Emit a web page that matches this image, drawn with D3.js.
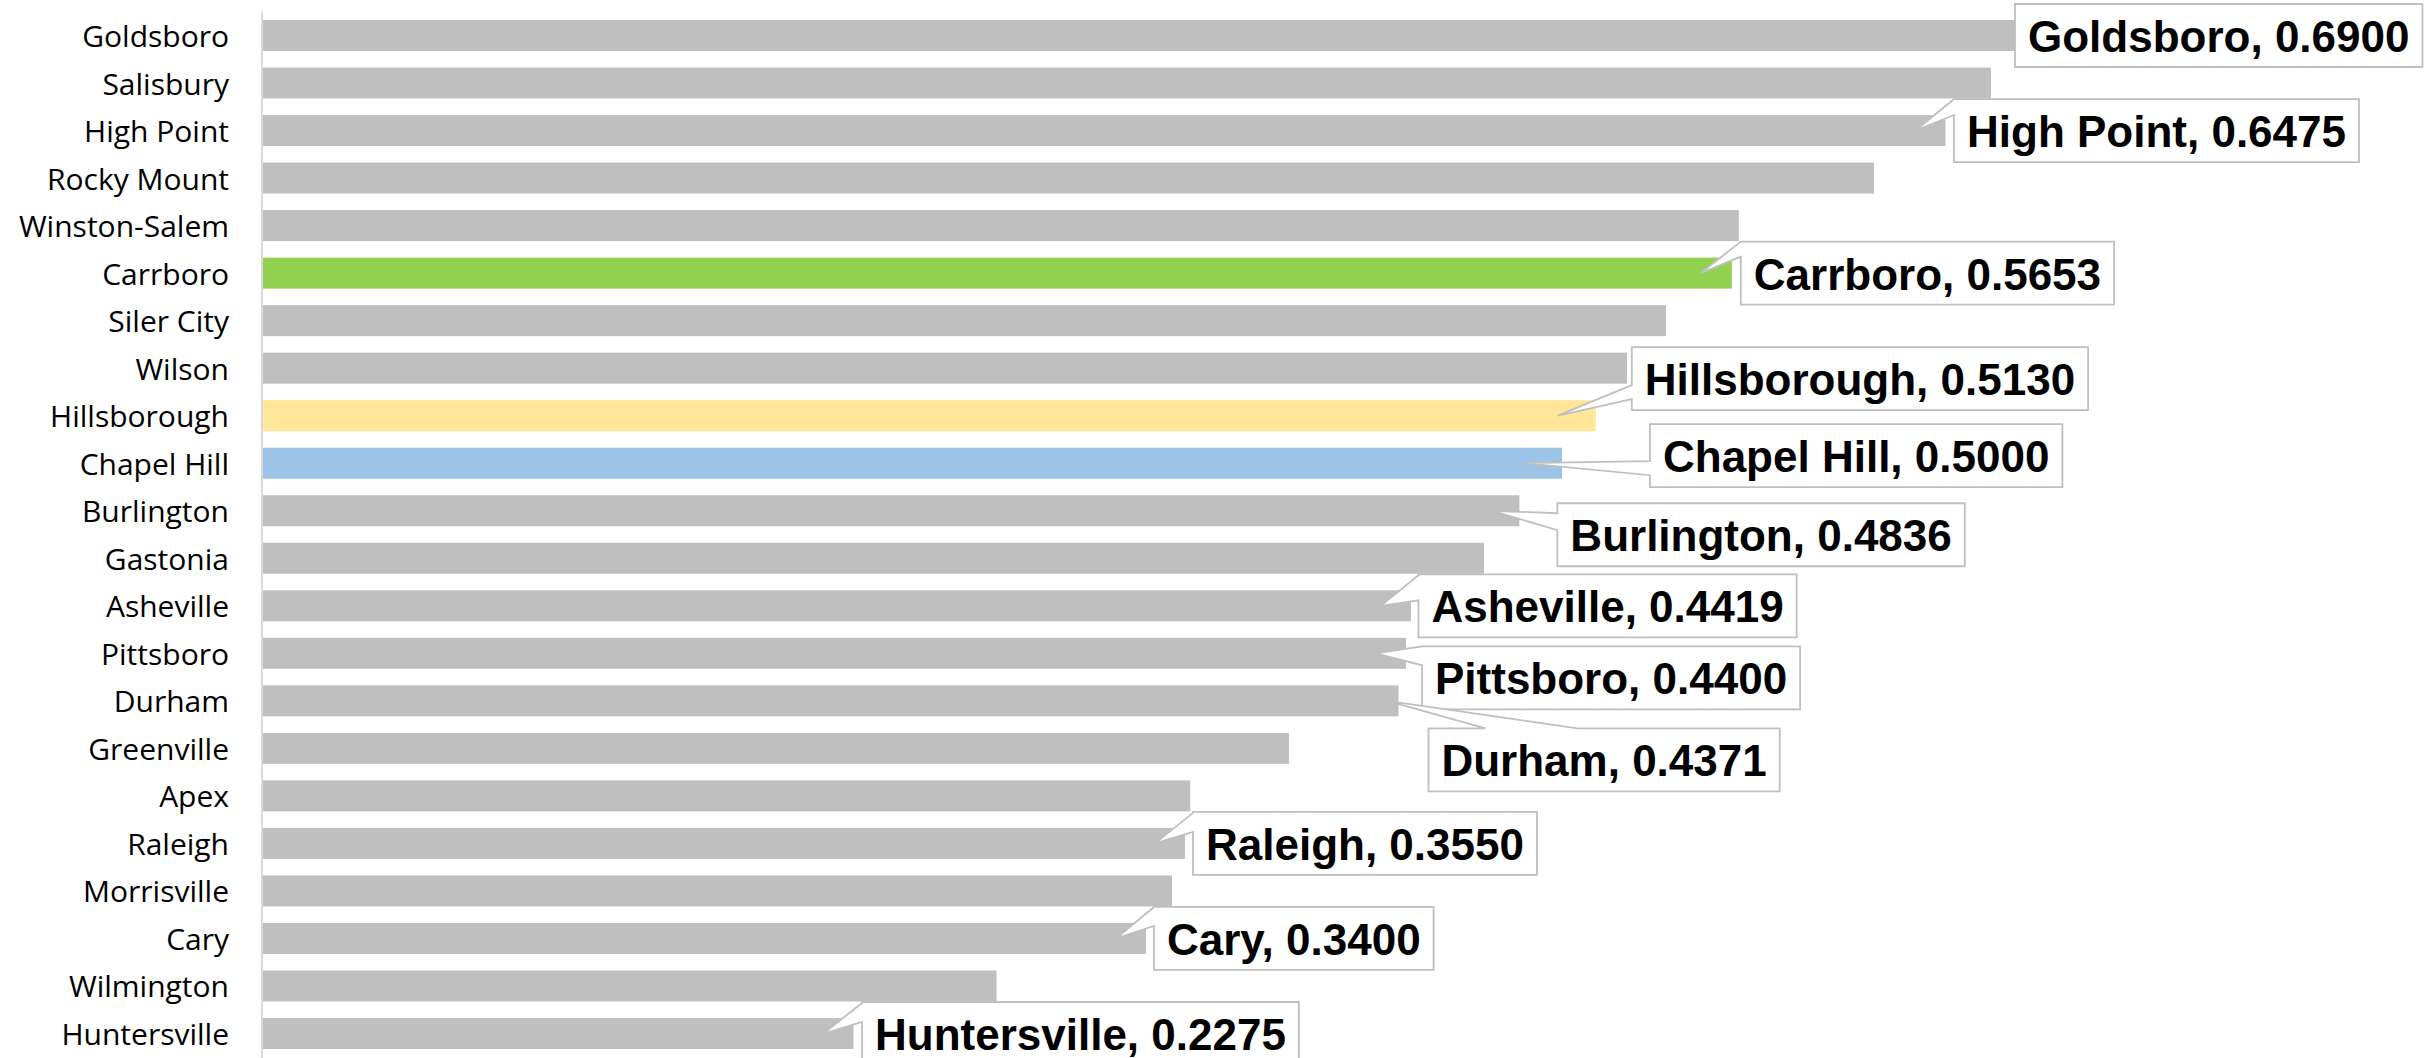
<!DOCTYPE html>
<html><head><meta charset="utf-8">
<script src="https://cdn.jsdelivr.net/npm/d3@7"></script>
<style>html,body{margin:0;padding:0;background:#fff;overflow:hidden}</style>
</head><body>
<svg id="chart" width="2436" height="1058"></svg>
<script>
// ---- data ----
const cities = ["Goldsboro","Salisbury","High Point","Rocky Mount","Winston-Salem","Carrboro","Siler City","Wilson","Hillsborough","Chapel Hill","Burlington","Gastonia","Asheville","Pittsboro","Durham","Greenville","Apex","Raleigh","Morrisville","Cary","Wilmington","Huntersville"];
const values = [0.6900,0.665,0.6475,0.620,0.568,0.5653,0.540,0.525,0.5130,0.5000,0.4836,0.470,0.4419,0.4400,0.4371,0.395,0.357,0.3550,0.350,0.3400,0.2825,0.2275];
const labelledCities = ["Goldsboro","High Point","Carrboro","Hillsborough","Chapel Hill","Burlington","Asheville","Pittsboro","Durham","Raleigh","Cary","Huntersville"];

// ---- styles / layout ----
const barGray = "#bfbfbf";
const highlight = {"Carrboro":"#92d050","Hillsborough":"#ffe699","Chapel Hill":"#9dc3e6"};
// callout layout: dx = box left minus bar end, shift = box centre minus row centre,
// inset = tip distance inside bar end, side/base = where the wedge leaves the box
const calloutLayout = {
  "Goldsboro":    {dx:-41, shift:0,    inset:30, side:"none"},
  "High Point":   {dx:8.5, shift:0,    inset:30, side:"left", base:[0,16]},
  "Carrboro":     {dx:9,   shift:0,    inset:31, side:"left", base:[0,15]},
  "Hillsborough": {dx:36,  shift:-37,  inset:38, side:"left", base:[38,52]},
  "Chapel Hill":  {dx:88,  shift:-7.5, inset:38, side:"left", base:[37,51]},
  "Burlington":   {dx:38,  shift:24,   inset:27, side:"left", base:[10,27]},
  "Asheville":    {dx:7.5, shift:0,    inset:30, side:"left", base:[1,26]},
  "Pittsboro":    {dx:16,  shift:24.5, inset:30, side:"left", base:[0,19]},
  "Durham":       {dx:30,  shift:59,   inset:11, side:"top",  base:[57,149]},
  "Raleigh":      {dx:8,   shift:0,    inset:30, side:"left", base:[1,20]},
  "Cary":         {dx:8,   shift:0,    inset:30, side:"left", base:[0,19]},
  "Huntersville": {dx:8.5, shift:0,    inset:30, side:"left", base:[1,20]}
};

const W = 2436, H = 1058;
const svg = d3.select("#chart");

const x = d3.scaleLinear().domain([0, 0.69]).range([262, 262 + 0.69 * 2600]);
const y = d3.scaleBand().domain(cities).range([12, 1057]).paddingInner(0.3475).paddingOuter(0.168);

const rows = cities.map((c, i) => ({city: c, value: values[i]}));

// bars
svg.append("g").selectAll("rect").data(rows).join("rect")
  .attr("x", x(0))
  .attr("y", d => y(d.city))
  .attr("width", d => x(d.value) - x(0))
  .attr("height", y.bandwidth())
  .attr("fill", d => highlight[d.city] || barGray);

// category axis
const yAxis = d3.axisLeft(y).tickSize(0).tickPadding(33);
const ag = svg.append("g").attr("transform", `translate(${x(0)},0)`).call(yAxis);
ag.select(".domain").attr("stroke", "#d9d9d9").attr("stroke-width", 2)
  .attr("d", `M0,12V${H}`);
ag.selectAll(".tick text")
  .attr("font-family", "'Open Sans', 'Noto Sans', sans-serif")
  .attr("font-size", 30)
  .attr("fill", "#000")
  .attr("dy", null)
  .attr("y", 11.5);

// callouts
const boxH = 63, pad = 13;
const cg = svg.append("g");
rows.filter(d => labelledCities.includes(d.city)).forEach(d => {
  const L = calloutLayout[d.city];
  const xe = x(d.value);
  const yc = y(d.city) + y.bandwidth() / 2;
  const left = xe + L.dx;
  const top = yc + L.shift - boxH / 2;
  const g = cg.append("g");
  const path = g.append("path");
  const t = g.append("text")
    .attr("font-family", "'Liberation Sans', Arial, sans-serif")
    .attr("font-weight", "bold")
    .attr("font-size", 44)
    .attr("fill", "#000")
    .text(`${d.city}, ${d.value.toFixed(4)}`);
  const tw = t.node().getComputedTextLength();
  const w = tw + 2 * pad;
  t.attr("x", left + pad).attr("y", top + 48);
  const right = left + w, bottom = top + boxH;
  const tx = xe - L.inset, ty = yc;
  let p;
  if (L.side === "left") {
    p = `M${left},${top + L.base[0]}L${tx},${ty}L${left},${top + L.base[1]}L${left},${bottom}L${right},${bottom}L${right},${top}L${left},${top}Z`;
  } else if (L.side === "top") {
    p = `M${left},${top}L${left + L.base[0]},${top}L${tx},${ty}L${left + L.base[1]},${top}L${right},${top}L${right},${bottom}L${left},${bottom}Z`;
  } else {
    p = `M${left},${top}H${right}V${bottom}H${left}Z`;
  }
  path.attr("d", p).attr("fill", "#fff").attr("stroke", "#bfbfbf").attr("stroke-width", 1.8)
    .attr("stroke-linejoin", "miter");
});
</script>
</body></html>
